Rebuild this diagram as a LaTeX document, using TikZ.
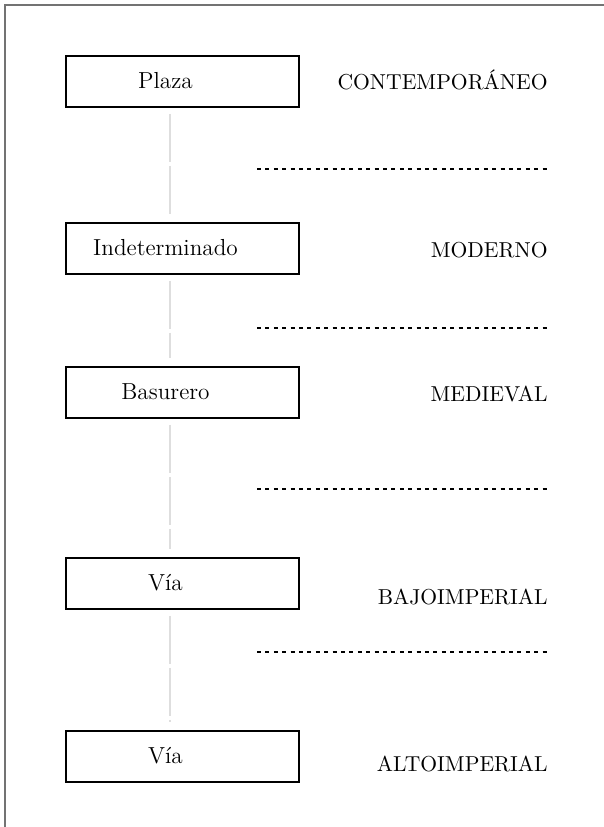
\documentclass[tikz,border=0pt]{standalone}
\usetikzlibrary{calc}

\begin{document}
\begin{tikzpicture}[x=0.5pt, y=-0.5pt,
  caja/.style={draw, line width=1pt, minimum width=116.5pt, minimum height=25.5pt, inner sep=0pt, font=\fontsize{11.6}{13}\selectfont, execute at end node={\hspace*{17pt}}},
  epoca/.style={anchor=east, inner sep=0pt, text height=1.59ex, text depth=0pt, font=\fontsize{10.8}{13}\selectfont},
  corte/.style={line width=0.9pt, dash pattern=on 2pt off 2.2pt},
  enlace/.style={black!13, line width=0.8pt, dash pattern=on 24pt off 2pt, shorten <=3pt, shorten >=4pt}]
\useasboundingbox (0,0) rectangle (604,827);
\draw[black!55, line width=0.9pt] (5,827)--(5,5)--(604,5);
\coordinate (eje) at (170,0);
\foreach \n/\t/\y/\e/\ye in {1/Plaza/81/CONTEMPORÁNEO/83, 2/Indeterminado/248/MODERNO/251, 3/Basurero/392/MEDIEVAL/395, 4/Vía/583/BAJOIMPERIAL/598, 5/Vía/756/ALTOIMPERIAL/765} {
 \node[caja] (caja\n) at (182.5,\y) {\t};
 \node[epoca] (epoca\n) at (548,\ye) {\e};
}
\foreach \y in {169, 328, 489, 652} {
 \draw[corte] (257,\y) --++(290,0);
}
\foreach \a/\b in {1/2, 2/3, 3/4, 4/5} {
 \draw[enlace] (caja\a.south -| eje) -- (caja\b.north -| eje);
}
\end{tikzpicture}
\end{document}
